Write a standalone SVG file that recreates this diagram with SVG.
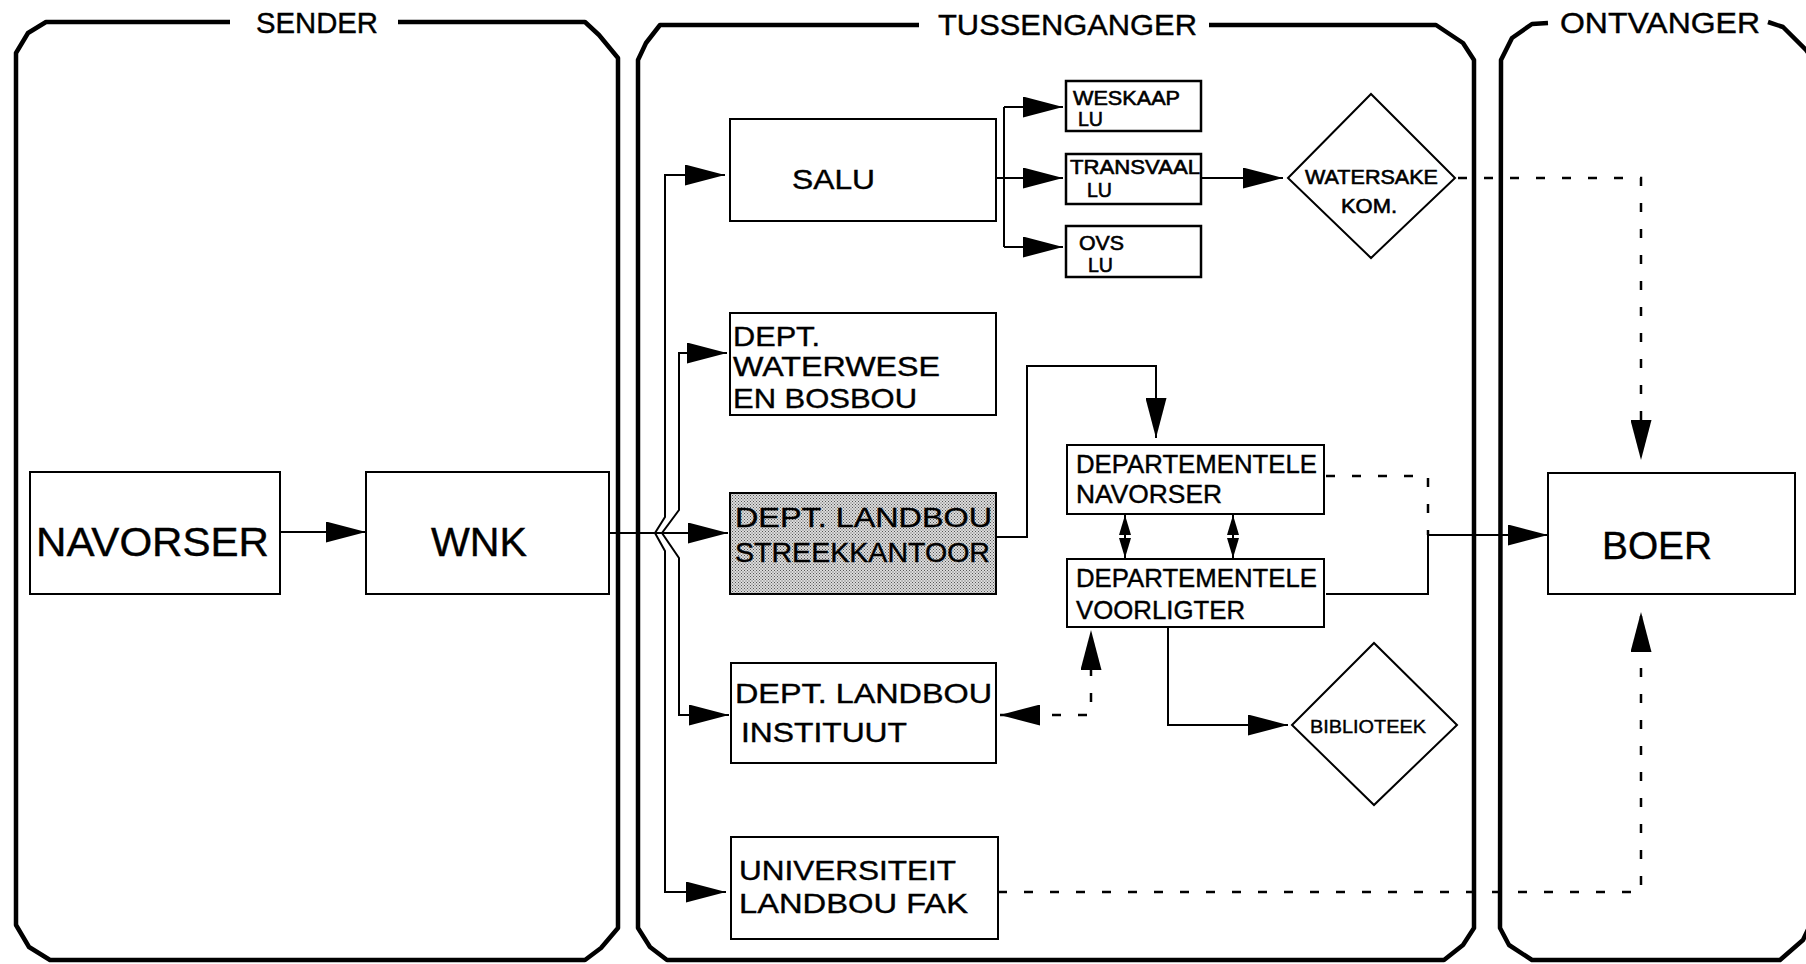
<svg xmlns="http://www.w3.org/2000/svg" width="1806" height="964" viewBox="0 0 1806 964">
<style>
text{font-family:"Liberation Sans",Arial,sans-serif;fill:#000;stroke:#000;stroke-width:0.4}
.panel{fill:none;stroke:#000;stroke-width:4.5;stroke-linejoin:round}
.hdr{font-size:29px}
.box{fill:#fff;stroke:#000;stroke-width:2}
.sbox{fill:#fff;stroke:#000;stroke-width:2.5}
.dia{fill:#fff;stroke:#000;stroke-width:2}
.c{fill:none;stroke:#000;stroke-width:2}
.d{fill:none;stroke:#000;stroke-width:2.5;stroke-dasharray:9 17}
.t40{font-size:40px}
.t28{font-size:28px}
.t25{font-size:25px}
.t20{font-size:20px;stroke-width:0.6}
</style>
<defs>
<marker id="ah" markerUnits="userSpaceOnUse" markerWidth="40" markerHeight="21" refX="40" refY="10.5" orient="auto-start-reverse" viewBox="0 0 40 21"><path d="M0,0 L40,10.5 L0,21 z" fill="#000"/></marker>
<marker id="as" markerUnits="userSpaceOnUse" markerWidth="20" markerHeight="12" refX="20" refY="6" orient="auto-start-reverse" viewBox="0 0 20 12"><path d="M0,0 L20,6 L0,12 z" fill="#000"/></marker>
<pattern id="stip" width="3" height="3" patternUnits="userSpaceOnUse"><rect width="3" height="3" fill="#dcdcdc"/><rect x="0" y="0" width="1" height="1" fill="#555"/><rect x="1.5" y="1.5" width="1" height="1" fill="#555"/></pattern>
</defs>

<g id="panels">
<path class="panel" d="M398 22 L585 22 L599 35 L618 58 L618 928 L601 948 L585 960 L50 960 L29 947 L16 925 L16 53 L28 33 L46 22 L230 22"/>
<text class="hdr" x="256" y="33" textLength="122" lengthAdjust="spacingAndGlyphs">SENDER</text>
<path class="panel" d="M1209 25 L1436 25 L1463 43 L1474 60 L1474 928 L1463 945 L1444 960 L667 960 L650 947 L638 928 L638 60 L646 43 L660 25 L919 25"/>
<text class="hdr" x="938" y="35" textLength="259" lengthAdjust="spacingAndGlyphs">TUSSENGANGER</text>
<path class="panel" d="M1548 23 L1532 24 L1512 38 L1501 60 L1500 928 L1509 945 L1532 960 L1780 960 L1803 940 L1815 915"/>
<path class="panel" d="M1768 22 L1783 27 L1806 50 L1815 62"/>
<text class="hdr" x="1560" y="33" textLength="200" lengthAdjust="spacingAndGlyphs">ONTVANGER</text>
</g>

<g id="connectors">
<line class="c" x1="280" y1="532" x2="366" y2="532" marker-end="url(#ah)"/>
<line class="c" x1="609" y1="533" x2="728" y2="533" marker-end="url(#ah)"/>
<path class="c" d="M725 175 L665 175 L665 517 L655 533 L665 551 L665 892 L726 892" marker-end="url(#ah)"/>
<line class="c" x1="665" y1="175" x2="725" y2="175" marker-end="url(#ah)"/>
<path class="c" d="M727 353 L679 353 L679 510 L662 533 L679 558 L679 715 L729 715" marker-end="url(#ah)"/>
<line class="c" x1="679" y1="353" x2="727" y2="353" marker-end="url(#ah)"/>
<line class="c" x1="996" y1="178" x2="1004" y2="178"/>
<line class="c" x1="1004" y1="107" x2="1004" y2="247"/>
<line class="c" x1="1004" y1="107" x2="1063" y2="107" marker-end="url(#ah)"/>
<line class="c" x1="1004" y1="178" x2="1063" y2="178" marker-end="url(#ah)"/>
<line class="c" x1="1004" y1="247" x2="1063" y2="247" marker-end="url(#ah)"/>
<line class="c" x1="1201" y1="178" x2="1283" y2="178" marker-end="url(#ah)"/>
<path class="d" d="M1458 178 L1641 178 L1641 460" marker-end="url(#ah)"/>
<path class="c" d="M996 537 L1027 537 L1027 366 L1156 366 L1156 438" marker-end="url(#ah)"/>
<line class="c" x1="1125" y1="515" x2="1125" y2="558" marker-start="url(#as)" marker-end="url(#as)"/>
<line class="c" x1="1233" y1="515" x2="1233" y2="558" marker-start="url(#as)" marker-end="url(#as)"/>
<path class="d" d="M1326 476 L1428 476 L1428 535"/>
<path class="c" d="M1326 594 L1428 594 L1428 535 L1548 535" marker-end="url(#ah)"/>
<path class="c" d="M1168 627 L1168 725 L1288 725" marker-end="url(#ah)"/>
<path class="d" d="M1000 715 L1091 715 L1091 630" marker-start="url(#ah)" marker-end="url(#ah)"/>
<path class="d" d="M998 892 L1641 892 L1641 612" marker-end="url(#ah)"/>
</g>

<g id="navorser">
<rect class="box" x="30" y="472" width="250" height="122"/>
<text class="t40" x="36" y="556" textLength="233" lengthAdjust="spacingAndGlyphs">NAVORSER</text>
</g>
<g id="wnk">
<rect class="box" x="366" y="472" width="243" height="122"/>
<text class="t40" x="431" y="556" textLength="96" lengthAdjust="spacingAndGlyphs">WNK</text>
</g>
<g id="salu">
<rect class="box" x="730" y="119" width="266" height="102"/>
<text class="t28" x="792" y="189" textLength="83" lengthAdjust="spacingAndGlyphs">SALU</text>
</g>
<g id="weskaap">
<rect class="sbox" x="1066" y="81" width="135" height="50"/>
<text class="t20" x="1073" y="105" textLength="107" lengthAdjust="spacingAndGlyphs">WESKAAP</text>
<text class="t20" x="1078" y="126" textLength="25" lengthAdjust="spacingAndGlyphs">LU</text>
</g>
<g id="transvaal">
<rect class="sbox" x="1066" y="154" width="135" height="50"/>
<text class="t20" x="1070" y="174" textLength="130" lengthAdjust="spacingAndGlyphs">TRANSVAAL</text>
<text class="t20" x="1087" y="197" textLength="25" lengthAdjust="spacingAndGlyphs">LU</text>
</g>
<g id="ovs">
<rect class="sbox" x="1066" y="226" width="135" height="51"/>
<text class="t20" x="1079" y="250" textLength="45" lengthAdjust="spacingAndGlyphs">OVS</text>
<text class="t20" x="1088" y="272" textLength="25" lengthAdjust="spacingAndGlyphs">LU</text>
</g>
<g id="watersake">
<polygon class="dia" points="1288,178 1371,94 1455,178 1371,258"/>
<text class="t20" x="1305" y="184" textLength="133" lengthAdjust="spacingAndGlyphs">WATERSAKE</text>
<text class="t20" x="1341" y="213" textLength="56" lengthAdjust="spacingAndGlyphs">KOM.</text>
</g>
<g id="waterwese">
<rect class="box" x="730" y="313" width="266" height="102"/>
<text class="t28" x="733" y="346" textLength="87" lengthAdjust="spacingAndGlyphs">DEPT.</text>
<text class="t28" x="733" y="376" textLength="207" lengthAdjust="spacingAndGlyphs">WATERWESE</text>
<text class="t28" x="733" y="408" textLength="184" lengthAdjust="spacingAndGlyphs">EN BOSBOU</text>
</g>
<g id="streekkantoor">
<rect class="box" x="730" y="493" width="266" height="101" style="fill:url(#stip)"/>
<text class="t28" x="735" y="527" textLength="257" lengthAdjust="spacingAndGlyphs">DEPT. LANDBOU</text>
<text class="t28" x="735" y="562" textLength="255" lengthAdjust="spacingAndGlyphs">STREEKKANTOOR</text>
</g>
<g id="instituut">
<rect class="box" x="731" y="663" width="265" height="100"/>
<text class="t28" x="735" y="703" textLength="257" lengthAdjust="spacingAndGlyphs">DEPT. LANDBOU</text>
<text class="t28" x="741" y="742" textLength="166" lengthAdjust="spacingAndGlyphs">INSTITUUT</text>
</g>
<g id="universiteit">
<rect class="box" x="731" y="837" width="267" height="102"/>
<text class="t28" x="739" y="880" textLength="217" lengthAdjust="spacingAndGlyphs">UNIVERSITEIT</text>
<text class="t28" x="739" y="913" textLength="229" lengthAdjust="spacingAndGlyphs">LANDBOU FAK</text>
</g>
<g id="dep-navorser">
<rect class="box" x="1067" y="445" width="257" height="69"/>
<text class="t25" x="1076" y="473" textLength="241" lengthAdjust="spacingAndGlyphs">DEPARTEMENTELE</text>
<text class="t25" x="1076" y="503" textLength="146" lengthAdjust="spacingAndGlyphs">NAVORSER</text>
</g>
<g id="dep-voorligter">
<rect class="box" x="1067" y="559" width="257" height="68"/>
<text class="t25" x="1076" y="587" textLength="241" lengthAdjust="spacingAndGlyphs">DEPARTEMENTELE</text>
<text class="t25" x="1076" y="619" textLength="169" lengthAdjust="spacingAndGlyphs">VOORLIGTER</text>
</g>
<g id="biblioteek">
<polygon class="dia" points="1292,725 1374,643 1457,725 1374,805"/>
<text x="1310" y="733" font-size="19" textLength="116" lengthAdjust="spacingAndGlyphs">BIBLIOTEEK</text>
</g>
<g id="boer">
<rect class="box" x="1548" y="473" width="247" height="121"/>
<text x="1602" y="559" font-size="38" textLength="110" lengthAdjust="spacingAndGlyphs">BOER</text>
</g>
</svg>
